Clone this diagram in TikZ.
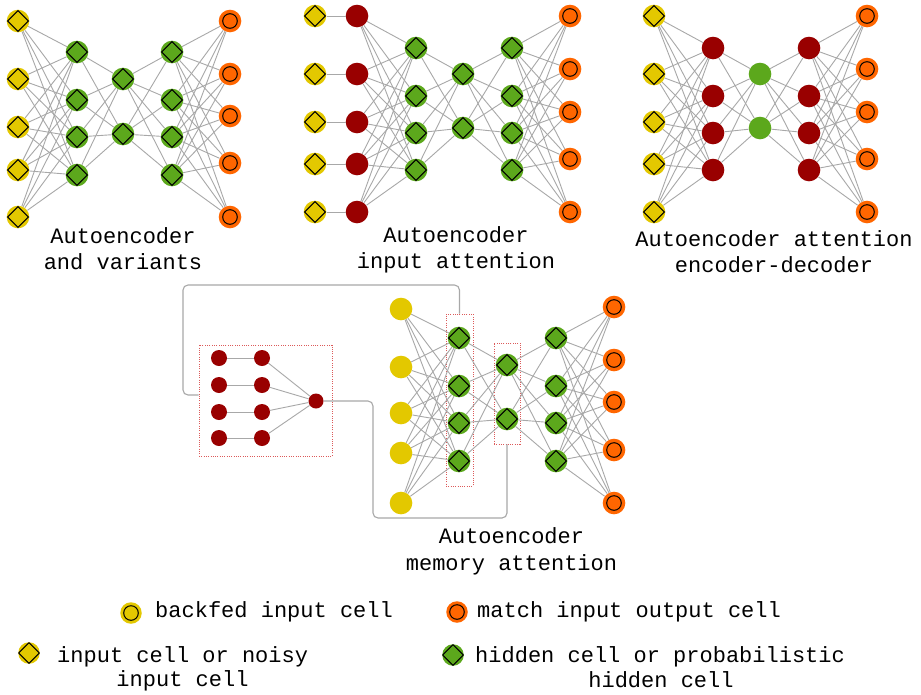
\documentclass[tikz,border=0pt]{standalone}
\usepackage{fontspec}
\setmainfont{Liberation Mono}
\definecolor{cyel}{HTML}{E3C800}
\definecolor{cgreen}{HTML}{5CA81C}
\definecolor{corange}{HTML}{FF6600}
\definecolor{cred}{HTML}{990000}
\definecolor{lgray}{HTML}{A8A8A8}
\definecolor{cdot}{HTML}{DC5A5A}
\begin{document}
\begin{tikzpicture}[x=1pt,y=-1pt,
  edge/.style={draw=lgray, line width=0.9pt},
  conn/.style={draw=lgray, line width=1.1pt, rounded corners=5pt},
  cell/.style={circle, inner sep=0pt, minimum size=22.6pt},
  dia/.style={path picture={\draw[black,line width=1pt,shift={(path picture bounding box.center)}] (0,-10.4) -- (10.4,0) -- (0,10.4) -- (-10.4,0) -- cycle;}},
  ring/.style={path picture={\draw[black,line width=1pt] (path picture bounding box.center) circle[radius=7.3pt];}},
  inpcell/.style={cell, fill=cyel, dia},
  hidcell/.style={cell, fill=cgreen, dia},
  outcell/.style={cell, fill=corange, ring},
  redcell/.style={cell, fill=cred},
  grncell/.style={cell, fill=cgreen},
  bfcell/.style={cell, fill=cyel},
  memcell/.style={circle, inner sep=0pt, minimum size=16pt, fill=cred},
  memout/.style={circle, inner sep=0pt, minimum size=15pt, fill=cred},
  dbox/.style={rectangle, draw=cdot, line width=0.8pt, dash pattern=on 1pt off 1.3pt, inner sep=0pt},
  lbl/.style={font=\fontsize{22}{26}\selectfont, inner sep=0pt, anchor=base},
  lblw/.style={lbl, anchor=base west}
]
\useasboundingbox[fill=white] (0,0) rectangle (921,694);

% ---------- Panel 1: Autoencoder and variants ----------
\foreach \y [count=\i] in {21,79,127,170,217} \node[inpcell] (Ai\i) at (18,\y) {};
\foreach \y [count=\i] in {52,100,137,175} \node[hidcell] (Ah\i) at (77,\y) {};
\foreach \y [count=\i] in {79,134} \node[hidcell] (Am\i) at (123,\y) {};
\foreach \y [count=\i] in {52,100,137,175} \node[hidcell] (Ak\i) at (172,\y) {};
\foreach \y [count=\i] in {21,74,116,163,217} \node[outcell] (Ao\i) at (230,\y) {};
\foreach \a in {1,...,5} \foreach \b in {1,...,4} \draw[edge] (Ai\a) -- (Ah\b);
\foreach \a in {1,...,4} \foreach \b in {1,2} \draw[edge] (Ah\a) -- (Am\b);
\foreach \a in {1,2} \foreach \b in {1,...,4} \draw[edge] (Am\a) -- (Ak\b);
\foreach \a in {1,...,4} \foreach \b in {1,...,5} \draw[edge] (Ak\a) -- (Ao\b);
\node[lbl] (At1) at (123,243) {Autoencoder};
\node[lbl] (At2) at (123,269) {and variants};

% ---------- Panel 2: Autoencoder input attention ----------
\foreach \y [count=\i] in {16,74,122,164,212} {
  \node[inpcell] (Bi\i) at (315,\y) {};
  \node[redcell] (Br\i) at (357,\y) {};
  \draw[edge] (Bi\i) -- (Br\i);
}
\foreach \y [count=\i] in {48,96,133,170} \node[hidcell] (Bh\i) at (416,\y) {};
\foreach \y [count=\i] in {74,128} \node[hidcell] (Bm\i) at (463,\y) {};
\foreach \y [count=\i] in {48,96,133,170} \node[hidcell] (Bk\i) at (512,\y) {};
\foreach \y [count=\i] in {16,69,112,159,212} \node[outcell] (Bo\i) at (570,\y) {};
\foreach \a in {1,...,5} \foreach \b in {1,...,4} \draw[edge] (Br\a) -- (Bh\b);
\foreach \a in {1,...,4} \foreach \b in {1,2} \draw[edge] (Bh\a) -- (Bm\b);
\foreach \a in {1,2} \foreach \b in {1,...,4} \draw[edge] (Bm\a) -- (Bk\b);
\foreach \a in {1,...,4} \foreach \b in {1,...,5} \draw[edge] (Bk\a) -- (Bo\b);
\node[lbl] (Bt1) at (456,242) {Autoencoder};
\node[lbl] (Bt2) at (456,268) {input attention};

% ---------- Panel 3: Autoencoder attention encoder-decoder ----------
\foreach \y [count=\i] in {16,74,122,164,212} \node[inpcell] (Ci\i) at (654,\y) {};
\foreach \y [count=\i] in {48,96,133,170} \node[redcell] (Ch\i) at (713,\y) {};
\foreach \y [count=\i] in {74,128} \node[grncell] (Cm\i) at (760,\y) {};
\foreach \y [count=\i] in {48,96,133,170} \node[redcell] (Ck\i) at (809,\y) {};
\foreach \y [count=\i] in {16,69,112,159,212} \node[outcell] (Co\i) at (867,\y) {};
\foreach \a in {1,...,5} \foreach \b in {1,...,4} \draw[edge] (Ci\a) -- (Ch\b);
\foreach \a in {1,...,4} \foreach \b in {1,2} \draw[edge] (Ch\a) -- (Cm\b);
\foreach \a in {1,2} \foreach \b in {1,...,4} \draw[edge] (Cm\a) -- (Ck\b);
\foreach \a in {1,...,4} \foreach \b in {1,...,5} \draw[edge] (Ck\a) -- (Co\b);
\node[lbl] (Ct1) at (774,246) {Autoencoder attention};
\node[lbl] (Ct2) at (774,272) {encoder-decoder};

% ---------- Panel 4: Autoencoder memory attention ----------
\node[dbox, minimum width=27pt, minimum height=172pt] (Db1) at (459.5,400) {};
\node[dbox, minimum width=26pt, minimum height=101pt] (Db2) at (507,393.5) {};
\node[dbox, minimum width=133pt, minimum height=111pt] (Dmem) at (265.5,400.5) {};
\foreach \y [count=\i] in {309,367,413,453,503} \node[bfcell] (Di\i) at (401,\y) {};
\foreach \y [count=\i] in {338,386,423,461} \node[hidcell] (Dh\i) at (459,\y) {};
\foreach \y [count=\i] in {365,419} \node[hidcell] (Dm\i) at (507,\y) {};
\foreach \y [count=\i] in {338,386,423,461} \node[hidcell] (Dk\i) at (556,\y) {};
\foreach \y [count=\i] in {307,360,402,450,503} \node[outcell] (Do\i) at (614,\y) {};
\foreach \a in {1,...,5} \foreach \b in {1,...,4} \draw[edge] (Di\a) -- (Dh\b);
\foreach \a in {1,...,4} \foreach \b in {1,2} \draw[edge] (Dh\a) -- (Dm\b);
\foreach \a in {1,2} \foreach \b in {1,...,4} \draw[edge] (Dm\a) -- (Dk\b);
\foreach \a in {1,...,4} \foreach \b in {1,...,5} \draw[edge] (Dk\a) -- (Do\b);
\node[memout] (Mo) at (316,401) {};
\foreach \y [count=\i] in {358,385,412,438} {
  \node[memcell] (Ma\i) at (219,\y) {};
  \node[memcell] (Mb\i) at (262,\y) {};
  \draw[edge] (Ma\i) -- (Mb\i);
  \draw[edge] (Mb\i) -- (Mo);
}
\draw[conn] (Db1.north) |- (183,285) |- (Dmem.west |- 0,395);
\draw[conn] (Mo.east) -| (373,518) -| (Db2.south);
\node[lbl] (Dt1) at (511.5,543) {Autoencoder};
\node[lbl] (Dt2) at (511.5,570) {memory attention};

% ---------- Legend ----------
\node[bfcell, ring, minimum size=21.5pt] (Lb) at (131,613) {};
\node[lblw] (Lbt) at (155,617) {backfed input cell};
\node[outcell, minimum size=21.5pt] (Lo) at (457,612) {};
\node[lblw] (Lot) at (477,617) {match input output cell};
\node[inpcell, minimum size=21.5pt] (Li) at (29,653) {};
\node[lblw] (Lit1) at (57,662) {input cell or noisy};
\node[lbl] (Lit2) at (182.5,686) {input cell};
\node[hidcell, minimum size=21.5pt] (Lh) at (453,655) {};
\node[lblw] (Lht1) at (475,662) {hidden cell or probabilistic};
\node[lbl] (Lht2) at (661,687) {hidden cell};
\end{tikzpicture}
\end{document}
